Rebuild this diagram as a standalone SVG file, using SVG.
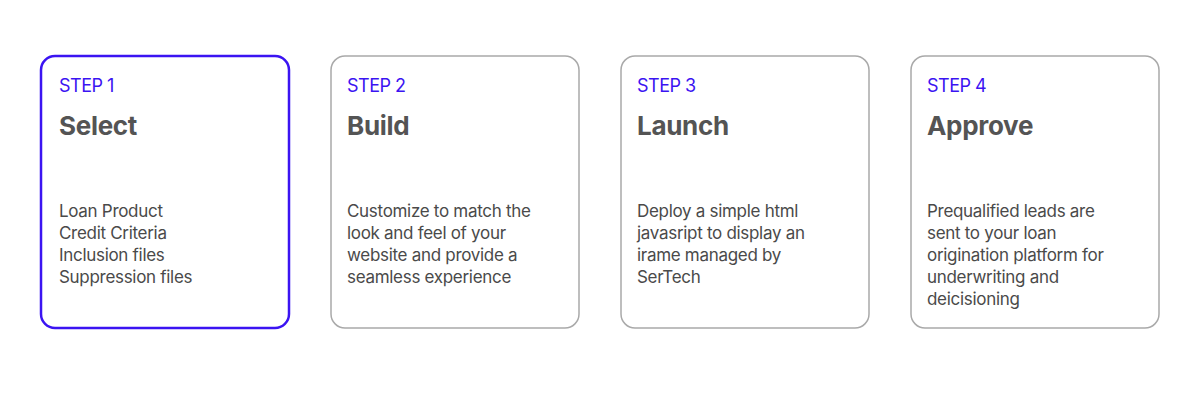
<svg xmlns="http://www.w3.org/2000/svg" width="1200" height="400" viewBox="0 0 1200 400">
<style>
.card{fill:#fff;stroke:#a9a9a9;stroke-width:1.5}
.active{stroke:#3b14f2;stroke-width:2.5}
.step{font-family:Inter,"Liberation Sans",sans-serif;font-size:18px;fill:#3b14f2;letter-spacing:-0.5px}
.title{font-family:Inter,"Liberation Sans",sans-serif;font-size:26px;font-weight:bold;fill:#545454;letter-spacing:-0.3px}
.body{font-family:Inter,"Liberation Sans",sans-serif;font-size:17px;fill:#4a4a4a;letter-spacing:-0.3px}
</style>
<rect width="1200" height="400" fill="#fff"/>
<g id="step1">
<rect class="card active" x="41" y="56" width="248" height="272" rx="14"/>
<text class="step" x="59" y="92">STEP 1</text>
<text class="title" x="59" y="135">Select</text>
<text class="body" x="59" y="217">Loan Product</text>
<text class="body" x="59" y="239">Credit Criteria</text>
<text class="body" x="59" y="261">Inclusion files</text>
<text class="body" x="59" y="283">Suppression files</text>
</g>
<g id="step2">
<rect class="card" x="331" y="56" width="248" height="272" rx="14"/>
<text class="step" x="347" y="92">STEP 2</text>
<text class="title" x="347" y="135">Build</text>
<text class="body" x="347" y="217">Customize to match the</text>
<text class="body" x="347" y="239">look and feel of your</text>
<text class="body" x="347" y="261">website and provide a</text>
<text class="body" x="347" y="283">seamless experience</text>
</g>
<g id="step3">
<rect class="card" x="621" y="56" width="248" height="272" rx="14"/>
<text class="step" x="637" y="92">STEP 3</text>
<text class="title" x="637" y="135">Launch</text>
<text class="body" x="637" y="217">Deploy a simple html</text>
<text class="body" x="637" y="239">javasript to display an</text>
<text class="body" x="637" y="261">irame managed by</text>
<text class="body" x="637" y="283">SerTech</text>
</g>
<g id="step4">
<rect class="card" x="911" y="56" width="248" height="272" rx="14"/>
<text class="step" x="927" y="92">STEP 4</text>
<text class="title" x="927" y="135">Approve</text>
<text class="body" x="927" y="217">Prequalified leads are</text>
<text class="body" x="927" y="239">sent to your loan</text>
<text class="body" x="927" y="261">origination platform for</text>
<text class="body" x="927" y="283">underwriting and</text>
<text class="body" x="927" y="305">deicisioning</text>
</g>
<g id="connectors"/>
</svg>
